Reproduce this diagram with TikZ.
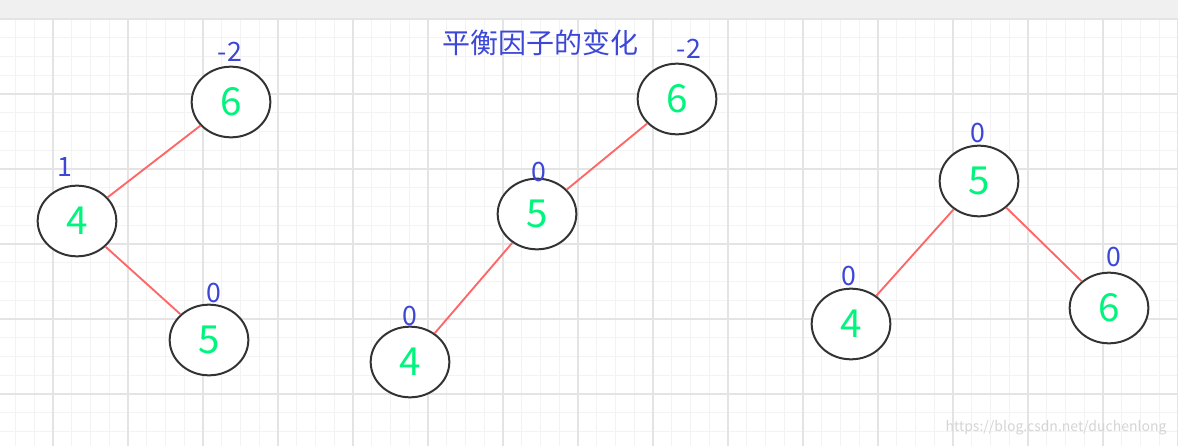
\documentclass[tikz,border=0pt]{standalone}
\usepackage{fontspec}
\setmainfont{Noto Sans CJK SC}
\usetikzlibrary{shapes.geometric}

\definecolor{nodeborder}{RGB}{51,51,51}
\definecolor{digitgreen}{RGB}{0,245,125}
\definecolor{bfblue}{RGB}{60,70,215}
\definecolor{edgered}{RGB}{255,102,102}
\definecolor{minorgrid}{RGB}{243,243,243}
\definecolor{majorgrid}{RGB}{228,228,228}
\definecolor{topband}{RGB}{240,240,240}
\definecolor{wmgray}{RGB}{212,212,212}

\begin{document}
\begin{tikzpicture}[x=0.75pt, y=-0.75pt, >=stealth,
  every avl/.style={ellipse, draw=nodeborder, line width=1.5pt, fill=white,
    minimum width=59pt, minimum height=53pt, inner sep=0pt,
    text=digitgreen, font=\fontsize{29}{30}\selectfont},
  bf/.style={text=bfblue, inner sep=0pt, font=\fontsize{20}{20}\selectfont},
  branch/.style={draw=edgered, line width=1.4pt}]

\useasboundingbox (0,0) rectangle (1178,446);

% background grid
\fill[topband] (0,0) rectangle (1178,19);
\foreach \k in {0,...,62}
  \draw[minorgrid, line width=0.75pt] (15.5+18.75*\k,19) -- (15.5+18.75*\k,446);
\foreach \k in {0,...,22}
  \draw[minorgrid, line width=0.75pt] (0,19+18.75*\k) -- (1178,19+18.75*\k);
\foreach \k in {0,...,15}
  \draw[majorgrid, line width=0.9pt] (53+75*\k,19) -- (53+75*\k,446);
\foreach \k in {0,...,5}
  \draw[majorgrid, line width=0.9pt] (0,19+75*\k) -- (1178,19+75*\k);

\node[text=bfblue, inner sep=0pt, font=\fontsize{21}{21}\selectfont] (title) at (540,43) {平衡因子的变化};

% three trees
\foreach \n/\v/\x/\y/\b/\bx/\by in {
    a6/6/231/102/-2/230/52, a4/4/77/221/1/65/167, a5/5/209/340/0/214/293,
    b6/6/677/99/-2/689/49, b5/5/537/214/0/539/172, b4/4/410/362/0/410/316,
    c5/5/979/181/0/978/133, c4/4/851/324/0/849/276, c6/6/1109/308/0/1114/257}
{
  \node[every avl] (\n) at (\x,\y) {\v};
  \node[bf] (\n-bf) at (\bx,\by) {\b};
}

\foreach \u/\w in {a6/a4, a4/a5, b6/b5, b5/b4, c5/c4, c5/c6}
  \draw[branch] (\u) -- (\w);

\node[text=wmgray, inner sep=0pt, font=\fontsize{10.5}{11}\selectfont] (mark) at (1056,428) {https://blog.csdn.net/duchenlong};

\end{tikzpicture}
\end{document}
